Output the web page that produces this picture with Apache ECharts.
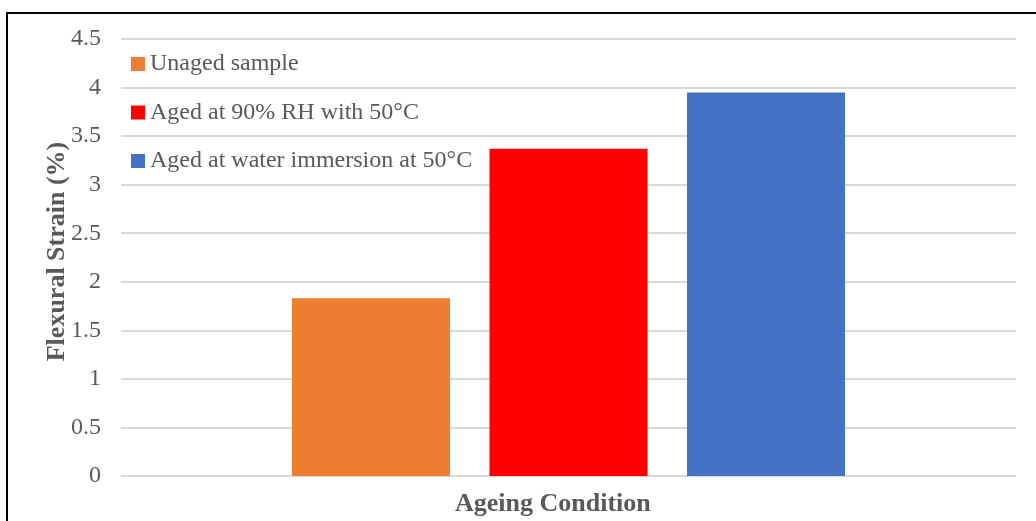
<!DOCTYPE html>
<html><head><meta charset="utf-8">
<script src="https://cdn.jsdelivr.net/npm/echarts@6/dist/echarts.min.js"></script>
<style>html,body{margin:0;padding:0;background:#fff}#c{width:1036px;height:521px}</style>
</head><body><div id="c"></div>
<script>
const categories = ['Ageing Condition'];
const seriesNames = ['Unaged sample', 'Aged at 90% RH with 50°C', 'Aged at water immersion at 50°C'];
const unaged = [1.83];
const agedRH = [3.37];
const agedWater = [3.95];
const colors = ['#ED7D31', '#FF0000', '#4472C4'];

const chart = echarts.init(document.getElementById('c'));
const font = '"Liberation Serif", "Times New Roman", serif';
chart.setOption({
  animation: false,
  textStyle: {fontFamily: font},
  grid: {left: 121, right: 20, top: 39, bottom: 45},
  legend: {
    orient: 'vertical', left: 126, top: 47, itemWidth: 14, itemHeight: 14, itemGap: 24.5,
    icon: 'rect',
    textStyle: {fontFamily: font, fontSize: 24, color: '#595959', lineHeight: 24},
    data: seriesNames
  },
  xAxis: {
    type: 'category', data: categories,
    axisLine: {show: false}, axisTick: {show: false}, axisLabel: {show: false}
  },
  yAxis: {
    type: 'value', min: 0, max: 4.5, interval: 0.5,
    name: 'Flexural Strain (%)', nameLocation: 'middle', nameGap: 51,
    nameMoveOverlap: false,
    nameTextStyle: {fontFamily: font, fontSize: 26, fontWeight: 'bold', color: '#595959', padding: [0, 0, 0, 12]},
    axisLabel: {fontFamily: font, fontSize: 24, color: '#595959', margin: 20},
    splitLine: {lineStyle: {color: '#D9D9D9', width: 2}},
    axisLine: {show: false}, axisTick: {show: false}
  },
  graphic: [
    {type: 'text', left: 455, top: 491, style: {text: 'Ageing Condition', font: 'bold 26px ' + font, fill: '#595959'}},
    {type: 'rect', shape: {x: 7, y: 13, width: 1040, height: 520}, style: {fill: 'none', stroke: '#000', lineWidth: 2}, silent: true}
  ],
  series: [
    {name: seriesNames[0], type: 'bar', data: unaged, itemStyle: {color: colors[0]}, barWidth: 158, barGap: '25%'},
    {name: seriesNames[1], type: 'bar', data: agedRH, itemStyle: {color: colors[1]}, barWidth: 158, barGap: '25%'},
    {name: seriesNames[2], type: 'bar', data: agedWater, itemStyle: {color: colors[2]}, barWidth: 158, barGap: '25%'}
  ]
});
</script></body></html>
